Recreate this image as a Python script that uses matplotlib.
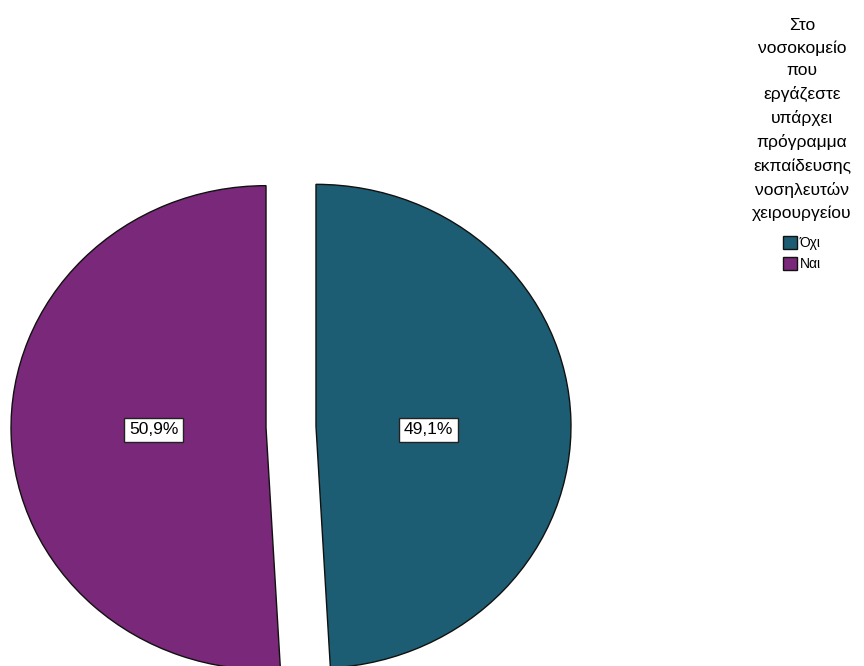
import matplotlib
matplotlib.use("Agg")
import matplotlib.pyplot as plt

plt.rcParams['font.family'] = ['Liberation Sans', 'DejaVu Sans']

categories = ['Όχι', 'Ναι']
values = [49.1, 50.9]
colors = ['#1c5d74', '#7a2879']
legend_title = ('Στο\nνοσοκομείο\nπου\nεργάζεστε\nυπάρχει\nπρόγραμμα\n'
                'εκπαίδευσης\nνοσηλευτών\nχειρουργείου')

W, H = 864, 666
fig = plt.figure(figsize=(W / 100, H / 100), dpi=100)
ax = fig.add_axes([0, 0, 1, 1])

wedges, texts, autotexts = ax.pie(
    values,
    colors=colors,
    startangle=90,
    counterclock=False,
    explode=[0.098, 0.098],
    autopct=lambda p: f'{p:.1f}%'.replace('.', ','),
    pctdistance=0.44,
    wedgeprops=dict(edgecolor='#111111', linewidth=1.0),
    textprops=dict(fontsize=12.5, color='black'),
)
for t in autotexts:
    t.set_bbox(dict(boxstyle='square,pad=0.28', facecolor='white',
                    edgecolor='#222222', linewidth=1.0))
    x, _ = t.get_position()
    t.set_position((x, -0.012))

# pixel-based placement of the (slightly elliptical) pie
cx, cy = 291, 427
rx, ry = 255, 242
ax.set_aspect('auto')
ax.set_xlim(-cx / rx, (W - cx) / rx)
ax.set_ylim(-(H - cy) / ry, cy / ry)
ax.axis('off')

leg = ax.legend(wedges, categories, title=legend_title,
                loc='upper center', bbox_to_anchor=(802 / W, 1 - 5 / H),
                bbox_transform=fig.transFigure, frameon=False,
                fontsize=10, title_fontsize=12.5,
                handlelength=1.0, handleheight=1.0, handletextpad=0.2,
                labelspacing=0.5)
leg.get_title().set_multialignment('center')
leg.get_title().set_linespacing(1.62)
leg._legend_box.align = 'center'
leg._legend_box.sep = 11

fig.savefig('out.png', dpi=100)
